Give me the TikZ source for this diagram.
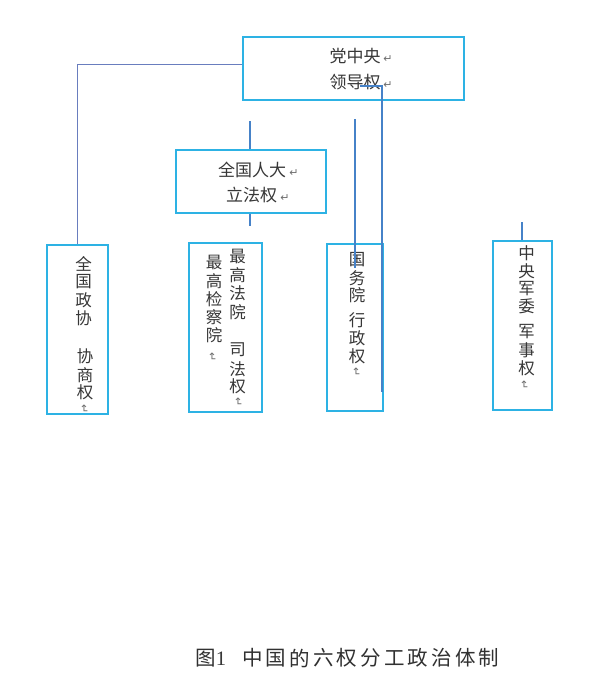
\documentclass[tikz,border=0pt]{standalone}
\usepackage{fontspec}
\newfontfamily\cjk{Noto Sans CJK SC}
\newfontfamily\dejavu{DejaVu Sans}
\newfontfamily\lserif{Liberation Serif}
\usetikzlibrary{calc}
\definecolor{boxc}{RGB}{45,178,228}
\definecolor{linec}{RGB}{70,130,200}
\definecolor{linel}{RGB}{105,125,190}
\definecolor{txt}{RGB}{55,55,55}
\definecolor{pm}{RGB}{110,110,110}
\begin{document}
\begin{tikzpicture}[x=1pt,y=-1pt,
  box/.style={draw=boxc,line width=1.7pt,inner sep=0pt},
  hch/.style={inner sep=0pt,text=txt,font=\cjk\fontsize{17}{17}\selectfont},
  vch/.style={inner sep=0pt,text=txt,font=\cjk\fontsize{16.5}{16.5}\selectfont},
  captxt/.style={inner sep=0pt,text=txt!90!black,font=\cjk\fontsize{20.5}{20.5}\selectfont},
  pmark/.style={inner sep=0pt,text=pm,font=\dejavu\fontsize{11}{11}\selectfont},
  lnA/.style={draw=linec,line width=1.1pt},
  lnB/.style={draw=linel,line width=1.2pt}]
\useasboundingbox[fill=white] (0,0) rectangle (600,699);

% boxes
\node[box,minimum width=221pt,minimum height=63pt] (top) at (353.5,68.5) {};
\node[box,minimum width=150pt,minimum height=63pt] (npc) at (251,181.5) {};
\node[box,minimum width=61pt,minimum height=169pt] (cppcc) at (77.5,329.5) {};
\node[box,minimum width=73pt,minimum height=169pt] (court) at (225.5,327.5) {};
\node[box,minimum width=56pt,minimum height=167pt] (state) at (355,327.5) {};
\node[box,minimum width=59pt,minimum height=169pt] (cmc) at (522.5,325.5) {};

% horizontal texts
\node[hch] (t1) at (355,56) {党中央};
\node[hch] (t2) at (355,82) {领导权};
\node[pmark] (t1p) at (388,59) {↵};
\node[pmark] (t2p) at (388,85) {↵};
\node[hch] (n1) at (252,170) {全国人大};
\node[hch] (n2) at (251.5,195) {立法权};
\node[pmark] (n1p) at (294,173) {↵};
\node[pmark] (n2p) at (285,198) {↵};

% vertical texts
\foreach \c/\yy [count=\i] in {全/263.5,国/281.5,政/300,协/318.5}
  \node[vch] (za\i) at (83.5,\yy) {\c};
\foreach \c/\yy [count=\i] in {协/356.5,商/375,权/392}
  \node[vch] (zb\i) at (85,\yy) {\c};
\node[pmark,rotate=-90] (zp) at (84,409) {↵};

\foreach \c/\yy [count=\i] in {最/256,高/275,法/293,院/312}
  \node[vch] (fa\i) at (237.5,\yy) {\c};
\foreach \c/\yy [count=\i] in {司/350,法/369,权/386}
  \node[vch] (fb\i) at (237.5,\yy) {\c};
\node[pmark,rotate=-90] (fp1) at (238,402) {↵};
\foreach \c/\yy [count=\i] in {最/262,高/281,检/299,察/317,院/335}
  \node[vch] (fc\i) at (214,\yy) {\c};
\node[pmark,rotate=-90] (fp2) at (212,357) {↵};

\foreach \c/\yy [count=\i] in {国/260,务/278,院/295.5}
  \node[vch] (ga\i) at (357,\yy) {\c};
\foreach \c/\yy [count=\i] in {行/320,政/338,权/356}
  \node[vch] (gb\i) at (357,\yy) {\c};
\node[pmark,rotate=-90] (gp) at (356,372) {↵};

\foreach \c/\yy [count=\i] in {中/253,央/271.5,军/289,委/306}
  \node[vch] (ja\i) at (526.5,\yy) {\c};
\foreach \c/\yy [count=\i] in {军/332,事/350,权/368}
  \node[vch] (jb\i) at (526.5,\yy) {\c};
\node[pmark,rotate=-90] (jp) at (524,385) {↵};

% connectors
\draw[lnB] ($(top.north west)!0.44!(top.south west)$) -| (cppcc.north);

\coordinate (a1) at (250,121);
\draw[lnA] (a1) -- (a1 |- npc.north);
\coordinate (a2) at (250,226);
\draw[lnA] (a2 |- npc.south) -- (a2);

\coordinate (b1) at (355,119);
\coordinate (b2) at (355,268);
\draw[lnA] (b1) -- (b2);

\coordinate (c1) at (360,86);
\coordinate (c2) at (382,86);
\coordinate (c3) at (382,392);
\draw[lnA] (c1) -- (c2) -- (c3);

\coordinate (d1) at (522,222);
\draw[lnA] (d1) -- (d1 |- cmc.north);

% caption
\node[captxt] (cp0) at (206,658) {图};
\node[inner sep=0pt,text=txt,font=\lserif\fontsize{20.5}{20.5}\selectfont] (cp1) at (221,659) {1};
\foreach \c [count=\i from 2] in {中,国,的,六,权,分,工,政,治,体,制}
  \node[captxt] (cp\i) at ({252.5+23.65*(\i-2)},658) {\c};
\end{tikzpicture}
\end{document}
